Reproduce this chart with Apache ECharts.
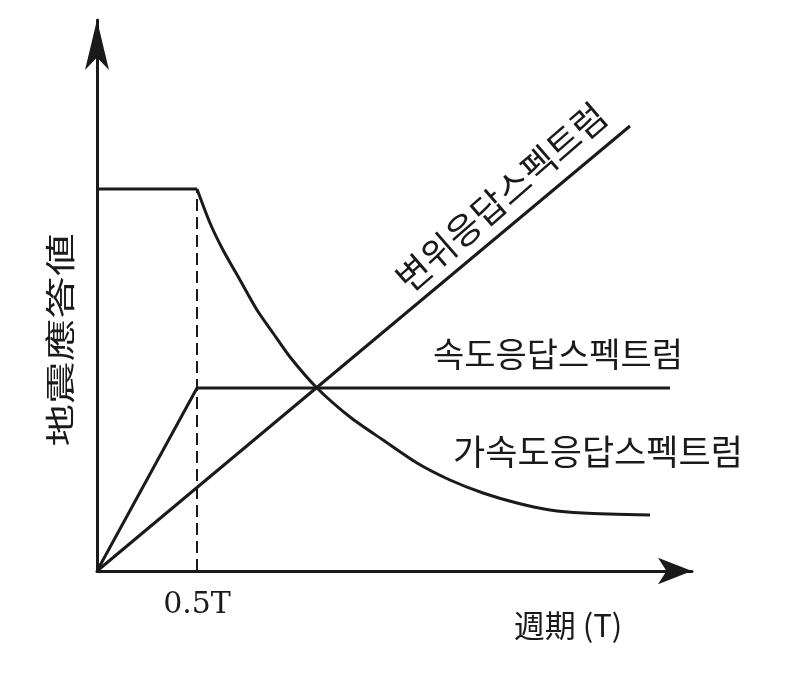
<!DOCTYPE html>
<html>
<head>
<meta charset="utf-8">
<title>응답스펙트럼</title>
<script src="https://cdn.jsdelivr.net/npm/echarts@6/dist/echarts.min.js"></script>
<style>
  html, body { margin: 0; padding: 0; background: #fff; }
  #chart { width: 795px; height: 674px; }
</style>
</head>
<body>
<div id="chart"></div>
<script>
// period axis: 0.5 = 0.5T
var accelFlatPeriod = [0, 0.5];
var accelFlatValue = [3.82, 3.82];
var accelCurvePeriod = [0.5, 0.565, 0.63, 0.715, 0.8, 0.88, 0.965, 1.1, 1.265, 1.43, 1.6, 1.765, 1.93, 2.1, 2.265, 2.43, 2.765];
var accelCurveValue = [3.82, 3.48, 3.21, 2.91, 2.61, 2.38, 2.14, 1.83, 1.54, 1.31, 1.08, 0.91, 0.78, 0.68, 0.61, 0.58, 0.56];
var velPeriod = [0, 0.5, 2.865];
var velValue = [0, 1.83, 1.83];
var dispPeriod = [0, 2.665];
var dispValue = [0, 4.45];
var guidePeriod = [0.5, 0.5];
var guideValue = [0, 3.82];

var ink = '#1a1a1a';
var krFont = '"Noto Sans CJK KR", sans-serif';

function pairs(xs, ys) {
	var out = [];
	for (var i = 0; i < xs.length; i++) {
		out.push([xs[i], ys[i]]);
	}
	return out;
}

function lineSeries(name, xs, ys, extra) {
	var s = {
		name: name,
		type: 'line',
		data: pairs(xs, ys),
		symbol: 'none',
		silent: true,
		lineStyle: { color: ink, width: 3 }
	};
	for (var k in extra) s[k] = extra[k];
	return s;
}

var chart = echarts.init(document.getElementById('chart'));
var option = {
	backgroundColor: '#fff',
	animation: false,
	grid: { left: 97, top: 20, width: 595, height: 551 },
	xAxis: {
		type: 'value',
		min: 0,
		max: 2.975,
		interval: 0.5,
		splitLine: { show: false },
		axisTick: { show: false },
		axisLine: {
			lineStyle: { color: ink, width: 3 },
			symbol: ['none', 'arrow'],
			symbolSize: [20, 34]
		},
		axisLabel: {
			margin: 19,
			color: ink,
			fontSize: 30,
			fontFamily: '"DejaVu Serif", serif',
			formatter: function (v) { return v === 0.5 ? '0.5T' : ''; }
		}
	},
	yAxis: {
		type: 'value',
		min: 0,
		max: 5.51,
		splitLine: { show: false },
		axisTick: { show: false },
		axisLabel: { show: false },
		axisLine: {
			lineStyle: { color: ink, width: 3 },
			symbol: ['none', 'arrow'],
			symbolSize: [18, 50]
		}
	},
	series: [
		lineSeries('accelFlat', accelFlatPeriod, accelFlatValue, {}),
		lineSeries('accel', accelCurvePeriod, accelCurveValue, { smooth: 0.25 }),
		lineSeries('vel', velPeriod, velValue, {}),
		lineSeries('disp', dispPeriod, dispValue, {}),
		lineSeries('guide', guidePeriod, guideValue, {
			lineStyle: { color: ink, width: 2, type: [12, 6] }
		})
	],
	graphic: [
		{
			type: 'text',
			x: 60, y: 340,
			rotation: Math.PI / 2,
			scaleX: 1.42,
			style: {
				text: '地震應答値',
				font: '30px "Noto Sans CJK SC", sans-serif',
				fill: ink,
				align: 'center',
				verticalAlign: 'middle'
			}
		},
		{
			type: 'text',
			x: 501, y: 197,
			rotation: 41 * Math.PI / 180,
			style: {
				text: '변위응답스펙트럼',
				font: '36px ' + krFont,
				fill: ink,
				align: 'center',
				verticalAlign: 'middle'
			}
		},
		{
			type: 'text',
			x: 558, y: 354,
			style: {
				text: '속도응답스펙트럼',
				font: '34px ' + krFont,
				fill: ink,
				align: 'center',
				verticalAlign: 'middle'
			}
		},
		{
			type: 'text',
			x: 598, y: 452,
			style: {
				text: '가속도응답스펙트럼',
				font: '35px ' + krFont,
				fill: ink,
				align: 'center',
				verticalAlign: 'middle'
			}
		},
		{
			type: 'text',
			x: 568, y: 625,
			style: {
				text: '週期 (T)',
				font: '31px "Noto Sans CJK SC", serif',
				fill: ink,
				align: 'center',
				verticalAlign: 'middle'
			}
		}
	]
};
chart.setOption(option);
</script>
</body>
</html>
